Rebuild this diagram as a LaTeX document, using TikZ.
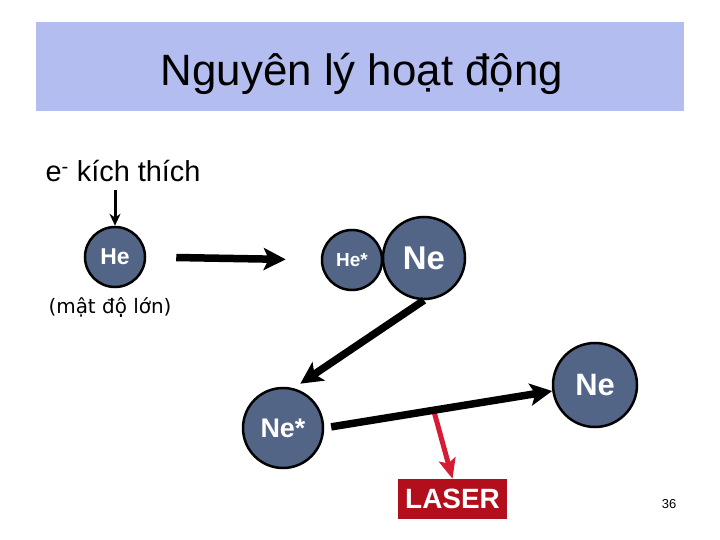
\documentclass[tikz,border=0pt]{standalone}
\usepackage{fontspec}
\setmainfont{Liberation Sans}
\newfontfamily\notefont{DejaVu Sans}
\usepackage{tikz}
\usetikzlibrary{arrows.meta,calc}

\definecolor{titleblue}{RGB}{179,189,240}
\definecolor{atomblue}{RGB}{82,101,134}
\definecolor{laserred}{RGB}{178,14,28}
\definecolor{beamred}{RGB}{214,28,52}

\tikzset{
  atom/.style={circle, draw=black, line width=2.5bp, fill=atomblue, text=white, inner sep=0pt},
  bigarrow/.style={line width=7.5bp, -{Stealth[length=22bp,width=22bp,inset=5bp]}},
}

\begin{document}
\begin{tikzpicture}[x=1bp,y=-1bp]
    \useasboundingbox (0,0) rectangle (720,540);

    % title band
    \fill[titleblue] (36,22) rectangle (684,111);
    \node[anchor=base, font=\fontsize{44}{48}\selectfont] (title) at (362,86) {Nguyên lý hoạt động};

    % excitation label
    \node[anchor=base west, font=\fontsize{29}{32}\selectfont] (exc) at (42,182) {e\textsuperscript{-} kích thích};

    % He atom
    \node[atom, minimum size=60bp, font=\fontsize{23}{25}\selectfont\bfseries] (he) at (115,257) {He};
    \node[anchor=base, font=\fontsize{20}{22}\notefont] (dens) at (110,313) {(mật độ lớn)};

    % He* and Ne pair
    \node[atom, minimum size=60bp, font=\fontsize{19}{21}\selectfont\bfseries] (hestar) at (352,260) {He*};
    \node[atom, minimum size=82bp, font=\fontsize{33}{36}\selectfont\bfseries] (ne) at (424,258) {Ne};

    % Ne* and Ne after emission
    \node[atom, minimum size=80bp, font=\fontsize{27}{30}\selectfont\bfseries] (nestar) at (283,428) {Ne*};
    \node[atom, minimum size=84bp, font=\fontsize{31}{34}\selectfont\bfseries] (ne2) at (595,385) {Ne};

    % LASER box
    \node[fill=laserred, text=white, minimum width=109bp, minimum height=40bp, inner sep=0pt,
          font=\fontsize{28}{30}\selectfont\bfseries] (laser) at (452.5,499) {LASER};

    % page number
    \node[font=\fontsize{13}{15}\selectfont] (page) at (669,504) {36};

    % excitation arrow
    \draw[line width=3bp, -{Stealth[length=12bp,width=11bp]}, shorten <=4bp] (he.north |- exc.south) -- (he.north);

    % energy transfer arrows
    \draw[bigarrow, shorten <=30bp, shorten >=35bp] (he.east) -- (hestar.west);
    \draw[bigarrow, shorten >=8bp] (ne.south) -- (nestar.75);

    % laser emission
    \coordinate (emit) at ($(nestar.east)!0.48!(ne2.188)$);
    \draw[beamred, line width=5bp, -{Stealth[length=20bp,width=17bp,inset=4bp]}] (emit) -- (laser.north);
    \draw[bigarrow, shorten <=7bp] (nestar.east) -- (ne2.188);
\end{tikzpicture}
\end{document}
